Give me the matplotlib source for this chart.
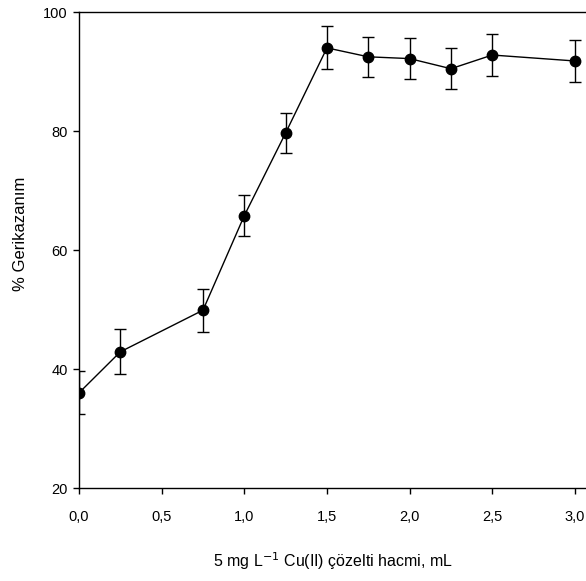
import numpy as np
import matplotlib
matplotlib.use("Agg")
import matplotlib.pyplot as plt

plt.rcParams['font.family'] = ['Liberation Sans Narrow', 'Liberation Sans', 'DejaVu Sans']

hacim = [0.0, 0.25, 0.75, 1.0, 1.25, 1.5, 1.75, 2.0, 2.25, 2.5, 3.0]
geri = [36.0, 42.9, 49.9, 65.8, 79.7, 94.0, 92.5, 92.2, 90.5, 92.8, 91.8]
hata = [3.6, 3.8, 3.6, 3.4, 3.4, 3.6, 3.4, 3.4, 3.4, 3.6, 3.6]

xticks = [0.0, 0.5, 1.0, 1.5, 2.0, 2.5, 3.0]
xticklabels = ['0,0', '0,5', '1,0', '1,5', '2,0', '2,5', '3,0']
yticks = [20, 40, 60, 80, 100]

fig = plt.figure(figsize=(5.86, 5.81), dpi=100)
ax = fig.add_axes([0.1348, 0.160, 0.8652, 0.819])

ax.errorbar(hacim, geri, yerr=hata, color='k', marker='o', markersize=7.5,
            linewidth=1, elinewidth=1, capsize=4.5, capthick=1)

ax.set_xlim(0, 3.067)
ax.set_ylim(20, 100)
ax.set_xticks(xticks)
ax.set_xticklabels(xticklabels)
ax.set_yticks(yticks)
ax.spines['right'].set_visible(False)
for s in ['left', 'bottom', 'top']:
    ax.spines[s].set_linewidth(1)
ax.tick_params(direction='out', length=4, width=1, labelsize=10.5, pad=4)
ax.tick_params(axis='x', pad=12)

ax.set_xlabel('5 mg L$^{-1}$ Cu(II) çözelti hacmi, mL', fontsize=11.5, labelpad=19)
ax.set_ylabel('% Gerikazanım', fontsize=12)
ax.yaxis.set_label_coords(-0.10, 0.534)

fig.savefig('out.png', dpi=100)
